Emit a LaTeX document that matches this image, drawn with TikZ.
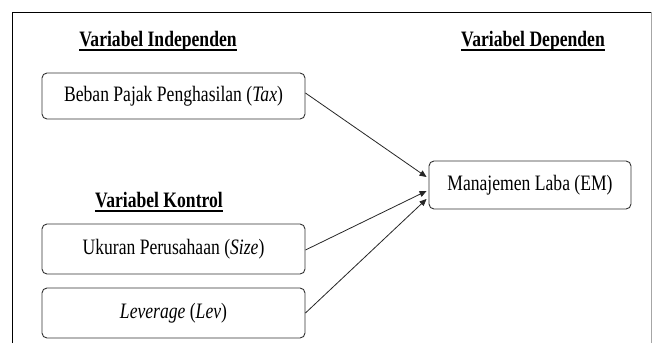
\documentclass[tikz,border=0pt]{standalone}
\usepackage{fontspec}
\setmainfont[FakeStretch=0.8]{Liberation Serif}
\usetikzlibrary{arrows.meta}
\begin{document}
\begin{tikzpicture}[x=1pt,y=-1pt,
  varbox/.style={draw=black!80, line width=0.9pt, rounded corners=5pt, inner sep=0pt, font=\fontsize{22}{26}\selectfont},
  heading/.style={inner sep=0pt, anchor=base, font=\bfseries\fontsize{22}{26}\selectfont},
  conn/.style={draw=black!85, line width=0.8pt, -{Triangle[length=7pt,width=6pt]}}]
\useasboundingbox (0,0) rectangle (652,343);
\fill[white] (0,0) rectangle (652,343);
% frame
\draw[line width=1pt] (12.5,343) -- (12.5,12) -- (651,12);
\draw[black!35, line width=0.8pt] (651,12) -- (651,343);
% headings
\node[heading] (hInd) at (158,46) {Variabel Independen};
\node[heading] (hDep) at (533,46) {Variabel Dependen};
\node[heading] (hKon) at (159,207) {Variabel Kontrol};
\foreach \h in {hInd,hDep,hKon}
  \draw[line width=1.6pt] ([yshift=-4pt]\h.base west) -- ([yshift=-4pt]\h.base east);
% boxes
\node[varbox, minimum width=263pt, minimum height=46pt] (tax) at (173.5,96) {Beban Pajak Penghasilan (\textit{Tax})};
\node[varbox, minimum width=263pt, minimum height=50pt] (size) at (173.5,249) {Ukuran Perusahaan (\textit{Size})};
\node[varbox, minimum width=263pt, minimum height=50pt] (lev) at (173.5,313) {\textit{Leverage} (\textit{Lev})};
\node[varbox, minimum width=202pt, minimum height=48pt] (em) at (530,185) {Manajemen Laba (EM)};
% connectors
\coordinate (t1) at ([yshift=8pt]em.west);
\coordinate (t2) at ([yshift=-6pt]em.west);
\coordinate (t3) at ([yshift=-14pt]em.west);
\draw[conn] ([yshift=3pt]tax.east) -- ([xshift=-2pt]t1);
\draw[conn] ([yshift=-1pt]size.east) -- ([xshift=-2pt]t2);
\draw[conn] (lev.east) -- ([xshift=-2pt]t3);
\end{tikzpicture}
\end{document}
